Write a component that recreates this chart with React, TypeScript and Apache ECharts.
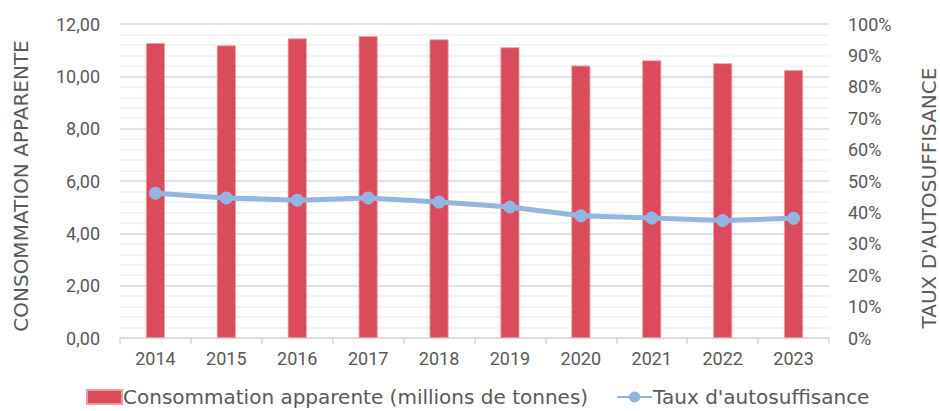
import React, { useEffect, useRef } from "react";
import * as echarts from "echarts";

const years = ["2014", "2015", "2016", "2017", "2018", "2019", "2020", "2021", "2022", "2023"];
const consommation = [11.27, 11.18, 11.45, 11.54, 11.41, 11.11, 10.41, 10.61, 10.5, 10.24];
const autosuffisance = [46.1, 44.6, 43.9, 44.6, 43.3, 41.7, 38.9, 38.2, 37.4, 38.1];
const leftAxisName = "CONSOMMATION APPARENTE";
const rightAxisName = "TAUX D'AUTOSUFFISANCE";
const barName = "Consommation apparente (millions de tonnes)";
const lineName = "Taux d'autosuffisance";

const FONT = "Roboto";
const WIDE = "DejaVu Sans";
const TXT = "#595959";

export default function App() {
  const ref = useRef<HTMLDivElement>(null);
  useEffect(() => {
    if (!ref.current) return;
    const chart = echarts.init(ref.current, null, { renderer: "svg" });
    chart.setOption({
      animation: false,
      textStyle: { fontFamily: FONT },
      grid: { left: 120, right: 111, top: 24, bottom: 73 },
      legend: {
        left: 81,
        top: 382,
        itemGap: 28,
        itemWidth: 35,
        itemHeight: 14,
        textStyle: { fontFamily: WIDE, fontSize: 20, color: TXT, padding: [0, 0, 0, -4] },
        data: [
          { name: barName, icon: "rect" },
          { name: lineName },
        ],
      },
      xAxis: {
        type: "category",
        data: years,
        axisLine: { lineStyle: { color: "#d9d9d9", width: 1.5 } },
        axisTick: { show: true, length: 6, lineStyle: { color: "#d9d9d9", width: 1.5 } },
        axisLabel: { color: TXT, fontSize: 18, fontFamily: FONT, margin: 11 },
      },
      yAxis: [
        {
          type: "value",
          min: 0,
          max: 12,
          interval: 2,
          axisLine: { show: false },
          axisTick: { show: false },
          axisLabel: {
            color: TXT,
            fontSize: 18,
            fontFamily: FONT,
            margin: 20,
            formatter: (v: number) => v.toFixed(2).replace(".", ","),
          },
          splitLine: { lineStyle: { color: "#d9d9d9", width: 1.5 } },
          minorTick: { show: false, splitNumber: 5 },
          minorSplitLine: { show: true, lineStyle: { color: "#f0f0f0", width: 1.5 } },
        },
        {
          type: "value",
          min: 0,
          max: 100,
          interval: 10,
          axisLine: { show: false },
          axisTick: { show: false },
          axisLabel: {
            color: TXT,
            fontSize: 18,
            fontFamily: FONT,
            margin: 19,
            formatter: (v: number) => v + "%",
          },
          splitLine: { show: false },
        },
      ],
      graphic: [
        {
          type: "text",
          x: 21,
          y: 186,
          rotation: Math.PI / 2,
          style: {
            text: leftAxisName,
            fill: TXT,
            font: `20px ${WIDE}`,
            align: "center",
            verticalAlign: "middle",
          },
        },
        {
          type: "text",
          x: 929,
          y: 198,
          rotation: Math.PI / 2,
          style: {
            text: rightAxisName,
            fill: TXT,
            font: `20px ${WIDE}`,
            align: "center",
            verticalAlign: "middle",
          },
        },
      ],
      series: [
        {
          name: barName,
          type: "bar",
          data: consommation,
          barWidth: 19,
          itemStyle: { color: "#da4b5c", borderColor: "#ec9aa4", borderWidth: 0.8 },
        },
        {
          name: lineName,
          type: "line",
          yAxisIndex: 1,
          data: autosuffisance,
          symbol: "circle",
          symbolSize: 13,
          lineStyle: { color: "#93b5df", width: 5 },
          itemStyle: { color: "#93b5df" },
        },
      ],
    });
    return () => chart.dispose();
  }, []);
  return <div ref={ref} style={{ width: 940, height: 411, position: "absolute", left: 0, top: 0 }} />;
}
